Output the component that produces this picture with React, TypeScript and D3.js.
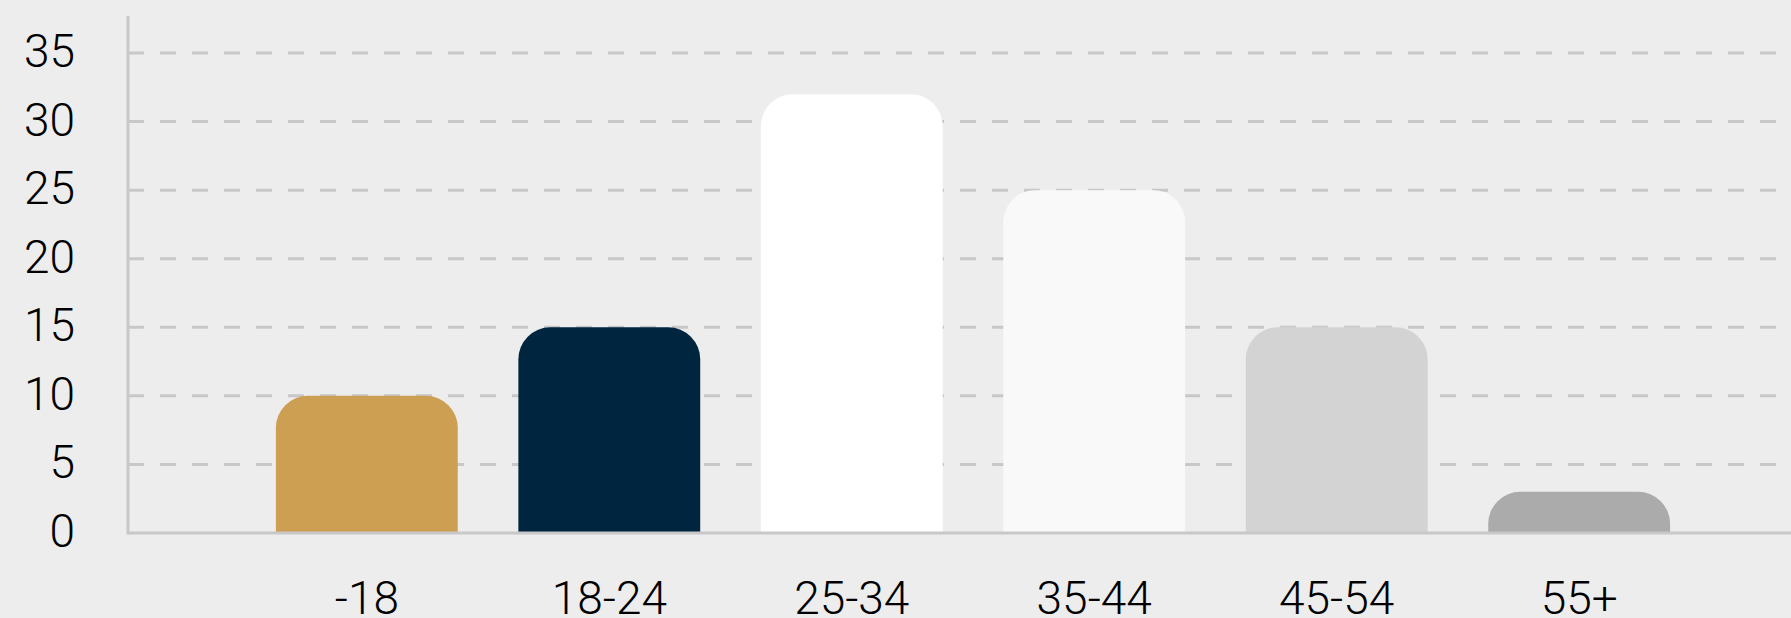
import React from 'react';
import * as d3 from 'd3';

const categories = ['-18', '18-24', '25-34', '35-44', '45-54', '55+'];
const values = [10, 15, 32, 25, 15, 3];
const barColors = ['#CC9F53', '#00253F', '#FFFFFF', '#F9F9F9', '#D3D3D3', '#ABABAB'];
const yTicks = [0, 5, 10, 15, 20, 25, 30, 35];

const W = 1791;
const H = 618;
const FONT = 'Roboto, "Noto Sans", sans-serif';

function topRoundedBar(x: number, y: number, w: number, h: number, r: number) {
  const rr = Math.min(r, w / 2, h);
  const p = d3.path();
  p.moveTo(x, y + h);
  p.lineTo(x, y + rr);
  p.arcTo(x, y, x + rr, y, rr);
  p.lineTo(x + w - rr, y);
  p.arcTo(x + w, y, x + w, y + rr, rr);
  p.lineTo(x + w, y + h);
  p.closePath();
  return p.toString();
}

export default function App() {
  const axisX = 128;
  const baseY = 533;

  const x = d3.scaleBand<string>()
    .domain(categories)
    .range([axisX, 1818])
    .paddingInner(0.25)
    .paddingOuter(0.61);

  const y = d3.scaleLinear().domain([0, 37.7]).range([baseY, 16]);

  return (
    <svg
      width={W}
      height={H}
      style={{ position: 'absolute', left: 0, top: 0, background: '#EDEDED' }}
      fontFamily={FONT}
      fontWeight={300}
    >
      <rect x={0} y={0} width={W} height={H} fill="#EDEDED" />

      {/* grid */}
      {yTicks.filter(t => t > 0).map(t => (
        <line key={t} x1={axisX} x2={W} y1={y(t)} y2={y(t)}
          stroke="#C8C8C8" strokeWidth={3} strokeDasharray="16,16" />
      ))}

      {/* bars */}
      {categories.map((c, i) => (
        <path key={c}
          d={topRoundedBar(x(c)!, y(values[i]), x.bandwidth(), baseY - y(values[i]), 32)}
          fill={barColors[i]} />
      ))}

      {/* axes */}
      <line x1={axisX} x2={axisX} y1={y(37.7)} y2={baseY + 1.5} stroke="#C8C8C8" strokeWidth={3} />
      <line x1={axisX} x2={W} y1={baseY} y2={baseY} stroke="#C8C8C8" strokeWidth={3} />

      {yTicks.map(t => (
        <text key={t} x={75} y={y(t) + 14} textAnchor="end" fontSize={46} fill="#000">{t}</text>
      ))}

      {categories.map(c => (
        <text key={c} x={x(c)! + x.bandwidth() / 2} y={614} textAnchor="middle" fontSize={46} fill="#000">{c}</text>
      ))}
    </svg>
  );
}
